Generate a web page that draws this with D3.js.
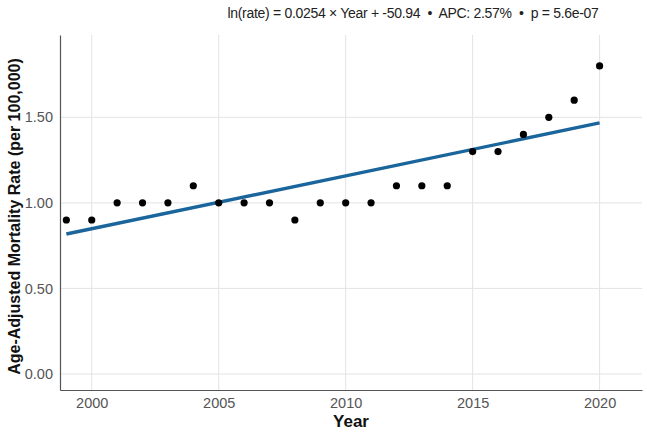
<!DOCTYPE html>
<html>
<head>
<meta charset="utf-8">
<script src="https://cdn.jsdelivr.net/npm/d3@7"></script>
<style>
  body { margin: 0; background: #fff; }
  svg { font-family: "Liberation Sans", Arial, sans-serif; }
</style>
</head>
<body>
<div id="chart"></div>
<script>
const years = [1999, 2000, 2001, 2002, 2003, 2004, 2005, 2006, 2007, 2008, 2009,
               2010, 2011, 2012, 2013, 2014, 2015, 2016, 2017, 2018, 2019, 2020];
const rates = [0.9, 0.9, 1.0, 1.0, 1.0, 1.1, 1.0, 1.0, 1.0, 0.9, 1.0,
               1.0, 1.0, 1.1, 1.1, 1.1, 1.3, 1.3, 1.4, 1.5, 1.6, 1.8];
// fitted trend line at both ends
const fitYears = [1999, 2020];
const fitRates = [0.818, 1.467];
const xTicks = [2000, 2005, 2010, 2015, 2020];
const yTicks = [0, 0.5, 1.0, 1.5];
const titleText = "ln(rate) = 0.0254 \u00d7 Year + -50.94   \u2022   APC: 2.57%   \u2022   p = 5.6e-07";

const width = 647, height = 432;
const margin = { top: 35, right: 5, bottom: 42, left: 60 };

const svg = d3.select("#chart").append("svg")
    .attr("width", width)
    .attr("height", height);

const x = d3.scaleLinear()
    .domain([1998.75, 2021.67])
    .range([margin.left, width - margin.right]);
const y = d3.scaleLinear()
    .domain([-0.0935, 1.981])
    .range([height - margin.bottom, margin.top]);

// grid
svg.append("g").selectAll("line.vg").data(xTicks).join("line")
    .attr("x1", d => x(d)).attr("x2", d => x(d))
    .attr("y1", y.range()[1]).attr("y2", y.range()[0])
    .attr("stroke", "#e3e3e3").attr("stroke-width", 1);
svg.append("g").selectAll("line.hg").data(yTicks).join("line")
    .attr("y1", d => y(d)).attr("y2", d => y(d))
    .attr("x1", x.range()[0]).attr("x2", x.range()[1])
    .attr("stroke", "#e3e3e3").attr("stroke-width", 1);

// axes
const xAxis = svg.append("g")
    .attr("transform", `translate(0,${height - margin.bottom})`)
    .call(d3.axisBottom(x).tickValues(xTicks).tickFormat(d3.format("d")).tickSize(0).tickPadding(8));
const yAxis = svg.append("g")
    .attr("transform", `translate(${margin.left},0)`)
    .call(d3.axisLeft(y).tickValues(yTicks).tickFormat(d3.format(".2f")).tickSize(0).tickPadding(7));
[xAxis, yAxis].forEach(g => {
    g.select(".domain").attr("stroke", "#555").attr("stroke-width", 1.2);
    g.selectAll("text").attr("fill", "#555").attr("font-size", 14.5);
});

// trend line
svg.append("path")
    .datum(fitYears.map((d, i) => [d, fitRates[i]]))
    .attr("fill", "none")
    .attr("stroke", "#1a659b")
    .attr("stroke-width", 3.4)
    .attr("d", d3.line().x(d => x(d[0])).y(d => y(d[1])));

// points
svg.append("g").selectAll("circle").data(years).join("circle")
    .attr("cx", d => x(d))
    .attr("cy", (d, i) => y(rates[i]))
    .attr("r", 3.6)
    .attr("fill", "#000");

// titles
svg.append("text")
    .attr("x", 413).attr("y", 18)
    .attr("text-anchor", "middle")
    .attr("font-size", 14)
    .attr("letter-spacing", -0.3)
    .attr("fill", "#222")
    .style("white-space", "pre")
    .text(titleText.replace(/   /g, "  "));

svg.append("text")
    .attr("x", (x.range()[0] + x.range()[1]) / 2).attr("y", 427)
    .attr("text-anchor", "middle")
    .attr("font-size", 17)
    .attr("font-weight", 700)
    .attr("fill", "#111")
    .text("Year");

svg.append("text")
    .attr("transform", `translate(20,${(y.range()[0] + y.range()[1]) / 2 + 4}) rotate(-90)`)
    .attr("text-anchor", "middle")
    .attr("font-size", 16)
    .attr("font-weight", 700)
    .attr("fill", "#111")
    .text("Age-Adjusted Mortality Rate (per 100,000)");
</script>
</body>
</html>
